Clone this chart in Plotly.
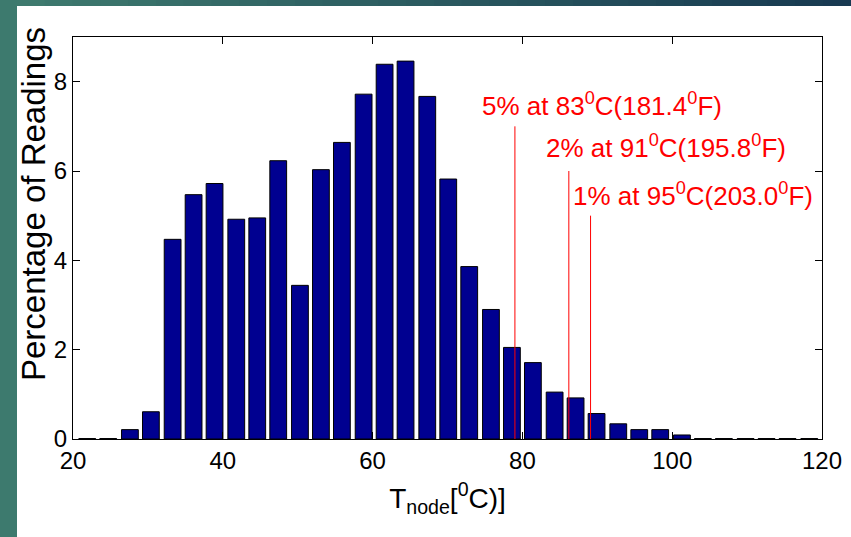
import plotly.graph_objects as go

# ---- data ----
bin_centers = [21.9, 24.7, 27.6, 30.4, 33.3, 36.1, 38.9, 41.8, 44.6, 47.4,
               50.3, 53.1, 55.9, 58.8, 61.6, 64.4, 67.3, 70.1, 72.9, 75.8,
               78.6, 81.4, 84.3, 87.1, 89.9, 92.8, 95.6, 98.4, 101.3, 104.1,
               106.9, 109.8, 112.6, 115.4, 118.3]
percentages = [0.01, 0.01, 0.21, 0.61, 4.47, 5.47, 5.72, 4.92, 4.95, 6.23,
               3.44, 6.03, 6.64, 7.72, 8.39, 8.46, 7.67, 5.82, 3.86, 2.90,
               2.05, 1.71, 1.05, 0.92, 0.57, 0.34, 0.21, 0.21, 0.09, 0.01,
               0.01, 0.01, 0.01, 0.01, 0.01]

threshold_x = [79.0, 86.2, 89.1]
threshold_top = [7.0, 6.0, 5.0]
threshold_labels = ["5% at 83<sup>0</sup>C(181.4<sup>0</sup>F)",
                    "2% at 91<sup>0</sup>C(195.8<sup>0</sup>F)",
                    "1% at 95<sup>0</sup>C(203.0<sup>0</sup>F)"]
label_x = [74.4, 82.9, 86.5]
label_y = [7.5, 6.55, 5.47]

x_ticks = [20, 40, 60, 80, 100, 120]
y_ticks = [0, 2, 4, 6, 8]

FONT = "Liberation Sans, Arial, sans-serif"

fig = go.Figure()
fig.add_trace(go.Bar(
    x=bin_centers, y=percentages,
    marker=dict(color="#000090", line=dict(color="#000000", width=1)),
    showlegend=False,
))
for xv, top in zip(threshold_x, threshold_top):
    fig.add_trace(go.Scatter(
        x=[xv, xv], y=[0, top], mode="lines",
        line=dict(color="#ff0000", width=1), showlegend=False,
    ))

for txt, xv, yv in zip(threshold_labels, label_x, label_y):
    fig.add_annotation(x=xv, y=yv, text=txt, showarrow=False,
                       xanchor="left", yanchor="middle",
                       font=dict(family=FONT, size=26, color="#ff0000"))

# background: teal frame with white panel
W, H = 851, 537
ml, mr, mt, mb = 73, 29, 37, 98
pw, ph = W - ml - mr, H - mt - mb

def px2x(px):
    return (px - ml) / pw

def py2y(py):
    return (H - mb - py) / ph

# y axis title (placed as in the reference, above centre)
fig.add_annotation(xref="paper", yref="paper", x=px2x(33), y=py2y(204),
                   text="Percentage of Readings", textangle=-90,
                   showarrow=False, xanchor="center", yanchor="middle",
                   font=dict(family=FONT, size=33, color="black"))

shapes = [dict(type="rect", xref="paper", yref="paper",
               x0=px2x(17), x1=px2x(W + 5), y0=py2y(H + 5), y1=py2y(6),
               fillcolor="white", line=dict(width=0), layer="below")]
# top gradient strip
c0 = (62, 122, 110)
c1 = (24, 58, 82)
n = 30
for i in range(n):
    t = i / (n - 1)
    col = "rgb(%d,%d,%d)" % tuple(int(a + (b - a) * t) for a, b in zip(c0, c1))
    xa = 17 + (W - 17) * i / n
    xb = 17 + (W - 17) * (i + 1) / n + 1
    shapes.append(dict(type="rect", xref="paper", yref="paper",
                       x0=px2x(xa), x1=px2x(xb), y0=py2y(6), y1=py2y(-5),
                       fillcolor=col, line=dict(width=0), layer="below"))

fig.update_layout(
    width=W, height=H,
    margin=dict(l=ml, r=mr, t=mt, b=mb, autoexpand=False),
    paper_bgcolor="#3d7a6e",
    plot_bgcolor="white",
    bargap=0.2,
    shapes=shapes,
    font=dict(family=FONT, color="black"),
    xaxis=dict(range=[20, 120], tickvals=x_ticks, ticks="inside", ticklen=7,
               tickcolor="black", showline=True, linecolor="black", linewidth=1,
               mirror="ticks", showgrid=False, zeroline=False, automargin=False,
               tickfont=dict(size=24),
               title=dict(text="T<sub>node</sub>[<sup>0</sup>C)]",
                          font=dict(size=28), standoff=15)),
    yaxis=dict(range=[0, 9], tickvals=y_ticks, ticks="inside", ticklen=7,
               tickcolor="black", showline=True, linecolor="black", linewidth=1,
               mirror="ticks", showgrid=False, zeroline=False, automargin=False,
               tickfont=dict(size=24)),
)

fig.write_html("out.html", config={"displayModeBar": False},
               post_script="document.body.style.margin='0';document.body.style.overflow='hidden';")
